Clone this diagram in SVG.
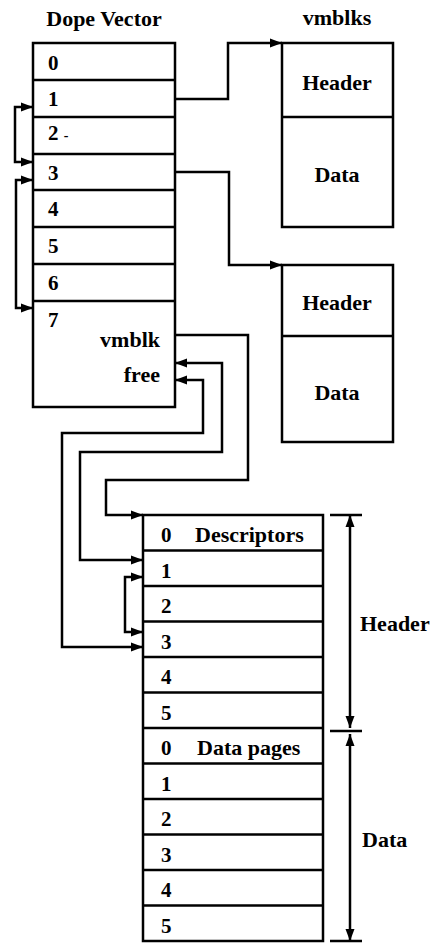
<svg xmlns="http://www.w3.org/2000/svg" width="430" height="943" viewBox="0 0 430 943">
  <style>
    .box { fill: none; stroke: #000; stroke-width: 2.5; }
    .div { stroke: #000; stroke-width: 2.5; }
    .wire { fill: none; stroke: #000; stroke-width: 2.5; stroke-linejoin: miter; }
    .t { font-family: "Liberation Serif", "Times New Roman", serif; font-weight: bold; font-size: 22px; fill: #000; }
    .n { font-family: "Liberation Serif", "Times New Roman", serif; font-weight: bold; font-size: 21px; fill: #000; }
    .mid { text-anchor: middle; }
    .end { text-anchor: end; }
  </style>
  <defs>
    <marker id="arrow" markerUnits="userSpaceOnUse" markerWidth="13" markerHeight="10" refX="12" refY="4.5" orient="auto-start-reverse" overflow="visible">
      <path d="M0,0 L12,4.5 L0,9 z" fill="#000"/>
    </marker>
  </defs>
  <rect width="430" height="943" fill="#fff"/>

  <!-- dope vector -->
  <g id="dope-vector">
    <text class="t mid" x="104" y="26">Dope Vector</text>
    <rect class="box" x="33" y="43" width="142" height="364"/>
    <line class="div" x1="33" y1="80" x2="175" y2="80"/>
    <line class="div" x1="33" y1="117" x2="175" y2="117"/>
    <line class="div" x1="33" y1="154" x2="175" y2="154"/>
    <line class="div" x1="33" y1="190" x2="175" y2="190"/>
    <line class="div" x1="33" y1="227" x2="175" y2="227"/>
    <line class="div" x1="33" y1="264" x2="175" y2="264"/>
    <line class="div" x1="33" y1="301" x2="175" y2="301"/>
    <text class="n" x="48" y="70">0</text>
    <text class="n" x="48" y="106">1</text>
    <text class="n" x="48" y="140">2 <tspan font-size="14">-</tspan></text>
    <text class="n" x="48" y="180">3</text>
    <text class="n" x="48" y="216">4</text>
    <text class="n" x="48" y="253">5</text>
    <text class="n" x="48" y="290">6</text>
    <text class="n" x="48" y="327">7</text>
    <text class="t end" x="160" y="347">vmblk</text>
    <text class="t end" x="160" y="382">free</text>
  </g>

  <!-- vmblks -->
  <g id="vmblk-1">
    <text class="t mid" x="337" y="25">vmblks</text>
    <rect class="box" x="282" y="43" width="111" height="184"/>
    <line class="div" x1="282" y1="117" x2="393" y2="117"/>
    <text class="t mid" x="337" y="90">Header</text>
    <text class="t mid" x="337" y="182">Data</text>
  </g>
  <g id="vmblk-2">
    <rect class="box" x="282" y="265" width="111" height="177"/>
    <line class="div" x1="282" y1="336" x2="393" y2="336"/>
    <text class="t mid" x="337" y="310">Header</text>
    <text class="t mid" x="337" y="400">Data</text>
  </g>

  <!-- descriptor / data page table -->
  <g id="page-table">
    <rect class="box" x="143" y="515" width="180" height="426"/>
    <line class="div" x1="143" y1="550.5" x2="323" y2="550.5"/>
    <line class="div" x1="143" y1="586" x2="323" y2="586"/>
    <line class="div" x1="143" y1="621.5" x2="323" y2="621.5"/>
    <line class="div" x1="143" y1="657" x2="323" y2="657"/>
    <line class="div" x1="143" y1="692.5" x2="323" y2="692.5"/>
    <line class="div" x1="143" y1="728" x2="323" y2="728"/>
    <line class="div" x1="143" y1="763.5" x2="323" y2="763.5"/>
    <line class="div" x1="143" y1="799" x2="323" y2="799"/>
    <line class="div" x1="143" y1="834.5" x2="323" y2="834.5"/>
    <line class="div" x1="143" y1="870" x2="323" y2="870"/>
    <line class="div" x1="143" y1="905.5" x2="323" y2="905.5"/>
    <text class="n" x="161" y="542">0</text>
    <text class="t" x="195" y="542">Descriptors</text>
    <text class="n" x="161" y="578">1</text>
    <text class="n" x="161" y="613">2</text>
    <text class="n" x="161" y="649">3</text>
    <text class="n" x="161" y="684">4</text>
    <text class="n" x="161" y="720">5</text>
    <text class="n" x="161" y="755">0</text>
    <text class="t" x="197" y="755" font-size="21">Data pages</text>
    <text class="n" x="161" y="791">1</text>
    <text class="n" x="161" y="826">2</text>
    <text class="n" x="161" y="862">3</text>
    <text class="n" x="161" y="897">4</text>
    <text class="n" x="161" y="933">5</text>
  </g>

  <g id="extent-labels">
    <text class="t" x="360" y="631">Header</text>
    <text class="t" x="362" y="847">Data</text>
  </g>

  <!-- connectors -->
  <g id="connectors">
    <path class="wire" d="M175,99 H228 V43 H282" marker-end="url(#arrow)"/>
    <path class="wire" d="M175,172 H229 V265 H282" marker-end="url(#arrow)"/>
    <path class="wire" d="M33,162 H15 V107 H33" marker-start="url(#arrow)" marker-end="url(#arrow)"/>
    <path class="wire" d="M33,180 H16 V308 H33" marker-start="url(#arrow)" marker-end="url(#arrow)"/>
    <path class="wire" d="M175,335 H248 V480 H106 V515 H143" marker-end="url(#arrow)"/>
    <path class="wire" d="M175,363 H222 V452 H80 V560 H143" marker-start="url(#arrow)" marker-end="url(#arrow)"/>
    <path class="wire" d="M175,380 H203 V433 H62 V647 H143" marker-start="url(#arrow)" marker-end="url(#arrow)"/>
    <path class="wire" d="M143,577 H125 V632 H143" marker-start="url(#arrow)" marker-end="url(#arrow)"/>
    <!-- extent dimensions -->
    <path class="wire" d="M350,515 V728" marker-start="url(#arrow)" marker-end="url(#arrow)"/>
    <path class="wire" d="M350,734 V941" marker-start="url(#arrow)" marker-end="url(#arrow)"/>
    <path class="wire" d="M330,515 H362 M330,731 H362 M330,941 H362"/>
  </g>
</svg>
